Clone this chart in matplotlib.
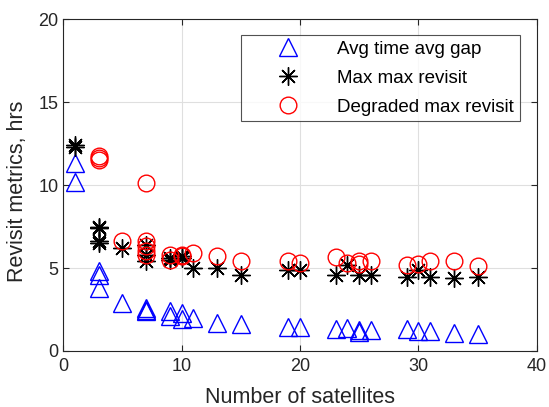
import matplotlib.pyplot as plt

plt.rcParams['font.family'] = ['Liberation Sans', 'DejaVu Sans']

# Avg time avg gap
tri_x = [1, 1, 3, 3, 3, 5, 7, 7, 7, 9, 9, 10, 10, 11, 13, 15, 19, 20, 23, 24, 25, 25, 26, 29, 30, 31, 33, 35]
tri_y = [11.3, 10.2, 4.8, 4.6, 3.8, 2.9, 2.6, 2.5, 2.4, 2.4, 2.1, 2.3, 1.9, 2.0, 1.7, 1.65, 1.45, 1.45,
         1.3, 1.4, 1.25, 1.15, 1.25, 1.35, 1.2, 1.2, 1.1, 1.05]

# Max max revisit
star_x = [1, 1, 3, 3, 3, 3, 5, 7, 7, 7, 9, 9, 10, 10, 11, 13, 15, 19, 20, 23, 24, 25, 26, 29, 30, 31, 33, 35]
star_y = [12.4, 12.3, 7.5, 7.4, 6.6, 6.5, 6.2, 6.4, 5.8, 5.4, 5.6, 5.5, 5.7, 5.6, 5.0, 5.0, 4.6, 4.9, 4.9,
          4.6, 5.2, 4.6, 4.6, 4.45, 4.9, 4.45, 4.4, 4.45]

# Degraded max revisit
circ_x = [3, 3, 3, 5, 7, 7, 7, 7, 7, 9, 9, 10, 10, 11, 13, 15, 19, 20, 23, 24, 25, 25, 26, 29, 30, 31, 33, 35]
circ_y = [11.75, 11.6, 11.5, 6.6, 10.1, 6.6, 6.3, 6.0, 5.8, 5.8, 5.5, 5.8, 5.7, 5.9, 5.7, 5.45, 5.45, 5.3,
          5.65, 5.3, 5.45, 5.25, 5.45, 5.2, 5.25, 5.4, 5.4, 5.15]

fig = plt.figure(figsize=(5.49, 4.07), dpi=100)
ax = fig.add_axes([0.115, 0.1376, 0.863, 0.8155])

ax.plot(tri_x, tri_y, linestyle='none', marker='^', markersize=13, markerfacecolor='none',
        markeredgecolor='#0000ff', markeredgewidth=1.0, label='Avg time avg gap')
ax.plot(star_x, star_y, linestyle='none', marker=(8, 2, 0), markersize=13, color='black',
        markeredgewidth=1.0, label='Max max revisit')
ax.plot(circ_x, circ_y, linestyle='none', marker='o', markersize=12, markerfacecolor='none',
        markeredgecolor='#ff0000', markeredgewidth=1.0, label='Degraded max revisit')

ax.set_xlim(0, 40)
ax.set_ylim(0, 20)
ax.set_xticks([0, 10, 20, 30, 40])
ax.set_yticks([0, 5, 10, 15, 20])
ax.grid(True, color='#dfdfdf', linewidth=0.8)
ax.set_axisbelow(True)
ax.tick_params(direction='in', top=True, right=True, labelsize=13, colors='#262626', length=4)
ax.tick_params(axis='x', pad=5)
for s in ax.spines.values():
    s.set_color('#262626')
    s.set_linewidth(0.8)

ax.set_xlabel('Number of satellites', fontsize=15.5, color='#262626', labelpad=9)
ax.set_ylabel('Revisit metrics, hrs', fontsize=15.5, color='#262626')
ax.yaxis.set_label_coords(-0.074, 0.482)

leg = ax.legend(loc='upper right', fontsize=13.5, frameon=True, fancybox=False,
                edgecolor='#262626', borderpad=0.3, labelspacing=0.63, handlelength=4.4,
                handletextpad=0.46, borderaxespad=0, bbox_to_anchor=(0.964, 0.952))
leg.get_frame().set_linewidth(0.8)

plt.savefig('out.png', dpi=100)
